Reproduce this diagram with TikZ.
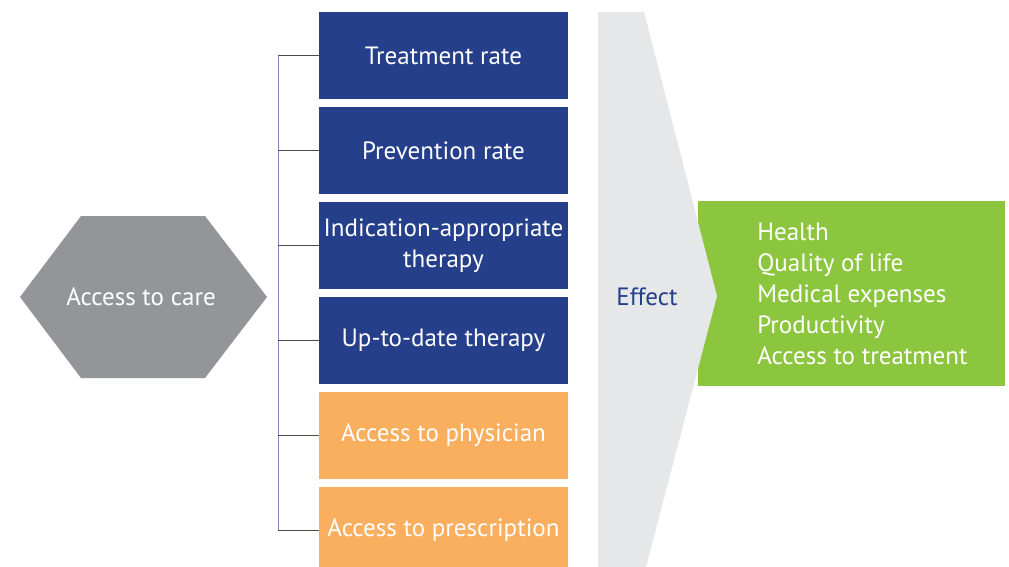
\documentclass[tikz,border=0pt]{standalone}
\usepackage{fontspec}
\setmainfont{PT Sans}

\definecolor{navy}{RGB}{37,63,138}
\definecolor{peach}{RGB}{250,175,95}
\definecolor{hexgray}{RGB}{147,149,152}
\definecolor{paleGray}{RGB}{230,231,232}
\definecolor{leaf}{RGB}{140,198,63}

\tikzset{
  factor/.style={rectangle, minimum width=6.225cm, minimum height=2.175cm,
    inner sep=0pt, text=white, align=center,
    font=\fontsize{17.8}{22}\selectfont},
  dark/.style={factor, fill=navy},
  light/.style={factor, fill=peach},
  tick/.style={draw=black!70, line width=0.7pt}
}

\begin{document}
\begin{tikzpicture}[x=0.025cm, y=-0.025cm]
        % Fix the page to the reference size
        \useasboundingbox (0,0) rectangle (1009,567);
        \clip (0,0) rectangle (1009,567);

        % Draw the outcome box
        \node[fill=leaf, minimum width=7.675cm, minimum height=4.625cm, inner sep=0pt] (outcome) at (851.5,293.5) {};
        \node[anchor=west, text=white, align=left, inner sep=0pt,
              font=\fontsize{17.8}{22}\selectfont] (list) at (757,294)
              {Health\\Quality of life\\Medical expenses\\Productivity\\Access to treatment};

        % Draw the effect chevron
        \fill[paleGray] (598,12) -- (644,12) -- (717,296) -- (646,567) -- (598,567) -- cycle;
        \node[text=navy, font=\fontsize{17.8}{22}\selectfont] (effect) at (647,297) {Effect};

        % Draw the hexagon
        \fill[hexgray] (20,297) -- (81,216) -- (205,216) -- (267,297) -- (205,378) -- (81,378) -- cycle;
        \node[text=white, font=\fontsize{17.8}{22}\selectfont] (care) at (141,297) {Access to care};

        % Draw the factor boxes
        \node[dark] (treat) at (443.5,55.5) {Treatment rate};
        \node[dark] (prev) at (443.5,150.5) {Prevention rate};
        \node[dark] (indic) at (443.5,245.5) {Indication-appropriate\\therapy};
        \node[dark] (uptodate) at (443.5,340.5) {Up-to-date therapy};
        \node[light] (phys) at (443.5,435.5) {Access to physician};
        \node[light] (presc) at (443.5,530.5) {Access to prescription};

        % Draw the bracket
        \coordinate (B) at (278,0);
        \draw[navy!60, line width=0.7pt] (treat.west -| B) -- (presc.west -| B);
        \foreach \n in {treat,prev,indic,uptodate,phys,presc}
            \draw[tick] (\n.west -| B) -- (\n.west);
    \end{tikzpicture}
\end{document}
